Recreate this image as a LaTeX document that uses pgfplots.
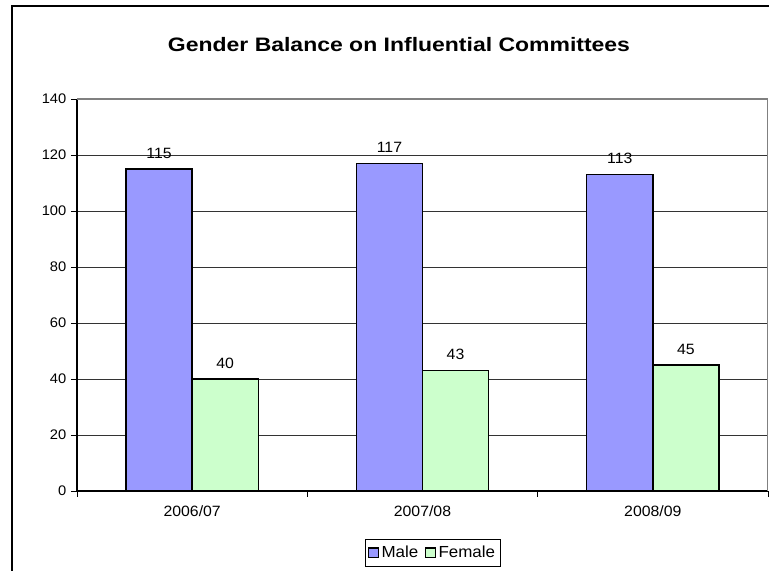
\documentclass[border=0pt]{standalone}
\usepackage{pgfplots}
\pgfplotsset{compat=1.18}
\usepackage{fontspec}
\setmainfont{Liberation Sans}
\newfontfamily\titlefont{Liberation Sans}[FakeStretch=1.18]
\newfontfamily\labelfont{Liberation Sans}[FakeStretch=1.06]
\definecolor{male}{HTML}{9999FF}
\definecolor{female}{HTML}{CCFFCC}
\begin{document}
\begin{tikzpicture}
\useasboundingbox (0pt,0pt) rectangle (576.75pt,428.25pt);
\clip (0pt,0pt) rectangle (576.75pt,428.25pt);
\fill[white] (0pt,0pt) rectangle (576.75pt,428.25pt);
\draw[line width=1.3pt] (9pt,-20pt) -- (9pt,423.75pt) -- (600pt,423.75pt);
\node[font=\titlefont\bfseries\fontsize{14.6}{17}\selectfont] at (299.25pt,394.5pt) {Gender Balance on Influential Committees};
\begin{axis}[
  at={(57.75pt,60pt)}, anchor=south west,
  scale only axis, width=518.25pt, height=294pt,
  ymin=0, ymax=140, xmin=-0.5, xmax=2.5,
  ytick={0,20,...,140},
  xtick={-0.5,0.5,1.5,2.5},
  x tick label as interval,
  xticklabels={2006/07,2007/08,2008/09},
  ymajorgrids,
  major grid style={black!80, line width=0.6pt},
  axis lines=left,
  axis line style={-, black, line width=0.8pt},
  tick align=outside,
  major tick length=4.5pt,
  tick style={black, line width=0.6pt},
  /pgf/number format/assume math mode=true,
  yticklabel style={font=\labelfont\fontsize{10.4}{12}\selectfont},
  xticklabel style={font=\labelfont\fontsize{11.2}{13}\selectfont, yshift=-3pt},
  ybar, bar width=0.287,
  nodes near coords,
  every node near coord/.append style={font=\labelfont\fontsize{11.2}{13}\selectfont, yshift=4pt, text=black},
  legend style={at={(0.515,-0.158)}, anchor=center, draw=black, line width=0.6pt,
    legend columns=2, font=\labelfont\fontsize{12}{14}\selectfont,
    inner xsep=2pt, inner ysep=3pt,
    /tikz/every odd column/.append style={column sep=0pt},
    /tikz/every even column/.append style={column sep=3pt}},
  legend image code/.code={\draw[#1, line width=1pt] (0pt,-3.6pt) rectangle (7.2pt,3.6pt);},
]
\addplot[fill=male, draw=black, line width=1.1pt, bar shift=-0.1435] coordinates {(0,115) (1,117) (2,113)};
\addplot[fill=female, draw=black, line width=1.1pt, bar shift=0.1435] coordinates {(0,40) (1,43) (2,45)};
\legend{Male, Female}
\draw[gray, line width=0.8pt] (rel axis cs:0,1) -- (rel axis cs:1,1) -- (rel axis cs:1,0);
\end{axis}
\end{tikzpicture}
\end{document}
